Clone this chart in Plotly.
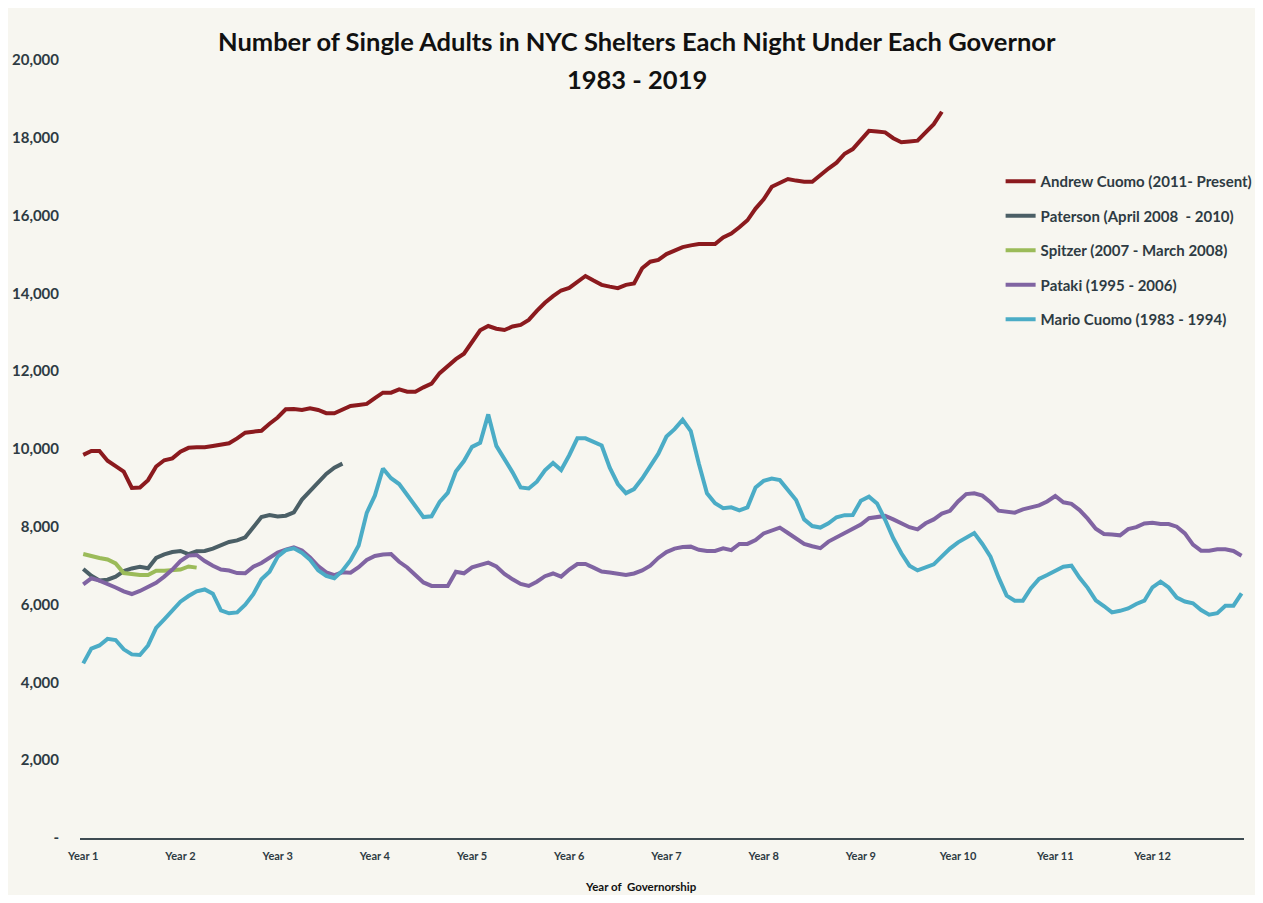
import plotly.graph_objects as go

# ---------------- data (monthly shelter census) ----------------
andrew_cuomo = [
    9850, 9950, 9950, 9700, 9560, 9420, 9000, 9010, 9200, 9550, 9710, 9760,
    9930, 10030, 10043, 10043, 10077, 10110, 10146, 10274, 10420, 10446, 10470, 10650,
    10810, 11020, 11030, 11003, 11045, 11003, 10920, 10917, 11020, 11105, 11130, 11160,
    11310, 11448, 11448, 11534, 11474, 11474, 11585, 11680, 11950, 12140, 12310, 12450,
    12750, 13050, 13162, 13093, 13059, 13150, 13190, 13320, 13550, 13760, 13930, 14075,
    14140, 14290, 14447, 14330, 14220, 14175, 14135, 14220, 14255, 14645, 14815, 14860,
    15010, 15100, 15190, 15235, 15270, 15270, 15270, 15440, 15540, 15700, 15880, 16180,
    16420, 16740, 16850, 16940, 16900, 16872, 16872, 17050, 17210, 17360, 17590, 17710,
    17950, 18180, 18160, 18140, 17990, 17885, 17905, 17926, 18140, 18350, 18670,
]

paterson = [
    6915, 6740, 6620, 6640, 6720, 6860, 6930, 6970, 6935, 7200, 7290, 7350,
    7378, 7300, 7370, 7378, 7440, 7530, 7610, 7650, 7730, 7990, 8250, 8300,
    8265, 8285, 8370, 8700, 8925, 9150, 9360, 9520, 9625,
]

spitzer = [
    7300, 7240, 7200, 7160, 7060, 6810, 6780, 6761, 6761, 6872, 6872, 6880,
    6900, 6980, 6950,
]

pataki = [
    6520, 6676, 6615, 6540, 6440, 6340, 6272, 6350, 6450, 6560, 6720, 6900,
    7120, 7260, 7275, 7120, 7000, 6900, 6876, 6810, 6804, 6975, 7070, 7220,
    7340, 7410, 7473, 7390, 7210, 6990, 6830, 6760, 6830, 6820, 6960, 7147,
    7250, 7290, 7300, 7100, 6955, 6760, 6570, 6480, 6478, 6478, 6845, 6804,
    6958, 7020, 7078, 6980, 6790, 6650, 6530, 6480, 6589, 6730, 6800, 6720,
    6900, 7044, 7044, 6950, 6850, 6825, 6804, 6760, 6800, 6880, 7000, 7200,
    7350, 7440, 7480, 7490, 7410, 7380, 7380, 7447, 7400, 7558, 7560, 7660,
    7830, 7892, 7977, 7840, 7700, 7558, 7500, 7450, 7620, 7730, 7830, 7950,
    8060, 8220, 8260, 8280, 8190, 8080, 7990, 7935, 8090, 8190, 8340, 8410,
    8650, 8840, 8860, 8800, 8630, 8414, 8390, 8363, 8450, 8510, 8550, 8650,
    8792, 8630, 8590, 8430, 8210, 7950, 7815, 7800, 7780, 7940, 7990, 8085,
    8106, 8072, 8072, 8003, 7830, 7540, 7386, 7386, 7420, 7421, 7380, 7258,
]

mario_cuomo = [
    4490, 4870, 4950, 5120, 5090, 4850, 4720, 4704, 4950, 5400, 5620, 5830,
    6075, 6220, 6340, 6390, 6280, 5850, 5776, 5800, 6000, 6270, 6650, 6847,
    7230, 7400, 7447, 7330, 7150, 6880, 6740, 6680, 6870, 7140, 7520, 8360,
    8800, 9500, 9250, 9100, 8820, 8530, 8250, 8270, 8640, 8870, 9420, 9690,
    10055, 10160, 10890, 10080, 9750, 9400, 9010, 8985, 9160, 9450, 9640, 9460,
    9840, 10275, 10275, 10195, 10090, 9520, 9100, 8865, 8970, 9240, 9550, 9880,
    10320, 10510, 10750, 10460, 9620, 8860, 8605, 8480, 8500, 8420, 8500, 9010,
    9180, 9242, 9200, 8925, 8690, 8190, 8020, 7980, 8090, 8245, 8300, 8303,
    8672, 8774, 8600, 8180, 7704, 7320, 7000, 6880, 6950, 7035, 7240, 7440,
    7600, 7730, 7840, 7558, 7230, 6700, 6230, 6100, 6100, 6420, 6660, 6760,
    6870, 6975, 7000, 6690, 6430, 6110, 5964, 5800, 5840, 5900, 6015, 6100,
    6445, 6589, 6440, 6180, 6080, 6035, 5860, 5740, 5780, 5970, 5973, 6290,
]

series_names = [
    "Andrew Cuomo (2011- Present)",
    "Paterson (April 2008  - 2010)",
    "Spitzer (2007 - March 2008)",
    "Pataki (1995 - 2006)",
    "Mario Cuomo (1983 - 1994)",
]
series_values = [andrew_cuomo, paterson, spitzer, pataki, mario_cuomo]
series_colors = ["#8B1A1E", "#4B5F66", "#9BBB59", "#8064A2", "#4BACC6"]

title_line1 = "Number of Single Adults in NYC Shelters Each Night Under Each Governor"
title_line2 = "1983 - 2019"
x_title = "Year of  Governorship"

year_labels = [f"Year {n}" for n in range(1, 13)]
year_ticks = [12 * k for k in range(12)]
y_ticks = [0, 2000, 4000, 6000, 8000, 10000, 12000, 14000, 16000, 18000, 20000]
y_tick_text = ["-"] + [f"{v:,}" for v in y_ticks[1:]]

# ---------------- figure ----------------
BG = "#F7F6F0"
TEXT = "#2E3B43"
FONT = "Lato"

fig = go.Figure()
for i, (name, vals, col) in enumerate(zip(series_names, series_values, series_colors)):
    fig.add_trace(go.Scatter(
        x=list(range(len(vals))), y=vals, mode="lines", name=name,
        legendgroup=f"g{i}",
        line=dict(color=col, width=4),
    ))

fig.update_layout(
    width=1247, height=887,
    paper_bgcolor=BG, plot_bgcolor=BG,
    margin=dict(l=72, r=11, t=52, b=57, autoexpand=False),
    font=dict(family=FONT, color=TEXT, size=13),
    showlegend=True,
    legend=dict(
        xref="container", yref="container",
        x=0.796, xanchor="left", y=0.823, yanchor="top",
        bgcolor="rgba(0,0,0,0)",
        font=dict(family=FONT, size=15, color=TEXT, weight="bold"),
        tracegroupgap=12,
        itemwidth=30,
    ),
    xaxis=dict(
        range=[-0.4, 143.3], automargin=False,
        tickmode="array", tickvals=year_ticks, ticktext=year_labels,
        tickfont=dict(family=FONT, size=11, color=TEXT, weight="bold"),
        showgrid=False, zeroline=False,
        showline=True, linecolor="#3E4B52", linewidth=1.5,
        ticks="", ticklabelstandoff=7,
    ),
    yaxis=dict(
        range=[0, 20000], automargin=False,
        tickmode="array", tickvals=y_ticks, ticktext=y_tick_text,
        tickfont=dict(family=FONT, size=15, color=TEXT, weight="bold"),
        showgrid=False, zeroline=False, showline=False,
        ticks="", ticklabelstandoff=20,
    ),
    annotations=[
        dict(text=f"<b>{title_line1}</b>", xref="paper", yref="paper",
             x=0.4785, y=1.0244, xanchor="center", yanchor="middle", showarrow=False,
             font=dict(family=FONT, size=25.5, color="#111111")),
        dict(text=f"<b>{title_line2}</b>", xref="paper", yref="paper",
             x=0.4785, y=0.9756, xanchor="center", yanchor="middle", showarrow=False,
             font=dict(family=FONT, size=25.5, color="#111111")),
        dict(text=f"<b>{x_title}</b>", xref="paper", yref="paper",
             x=0.482, y=-0.0617, xanchor="center", yanchor="middle", showarrow=False,
             font=dict(family=FONT, size=11.5, color="#111111")),
    ],
)

fig.write_html("out.html")
